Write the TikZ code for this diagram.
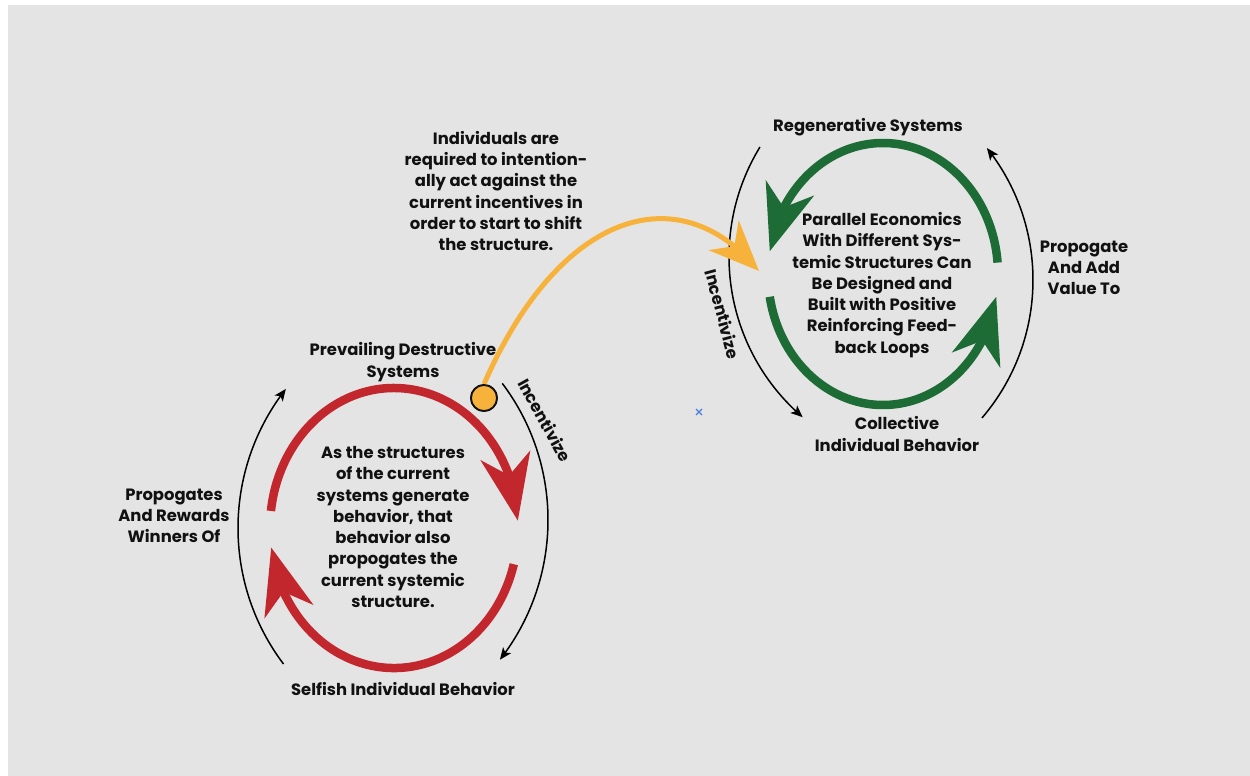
\documentclass[tikz,border=0pt]{standalone}
\usepackage{fontspec}
\setmainfont{Poppins}
\usetikzlibrary{arrows.meta,bending}
\definecolor{bg}{HTML}{E4E4E4}
\definecolor{loopred}{HTML}{C1272D}
\definecolor{loopgreen}{HTML}{1D6B35}
\definecolor{ochre}{HTML}{F7B23B}
\definecolor{txt}{HTML}{111111}
\definecolor{markblue}{HTML}{4A7FE0}
\begin{document}
\begin{tikzpicture}[x=1pt,y=-1pt,
  lbl/.style={font=\fontsize{16.4}{21.3}\selectfont\bfseries, text=txt, align=center, inner sep=0pt},
  bigtip/.style={-{Stealth[length=66pt,width=50pt,inset=20pt,flex]}},
  redloop/.style={draw=loopred, line width=8.5pt, bigtip},
  greenloop/.style={draw=loopgreen, line width=8.5pt, bigtip},
  thinarc/.style={draw=black, line width=1.5pt, -{Stealth[length=12pt,width=10pt,inset=3pt]}},
  shiftarrow/.style={draw=ochre, line width=5pt, -{Stealth[length=50pt,width=42pt,inset=15pt,flex]}},
  dot/.style={circle, draw=txt, line width=1.8pt, fill=ochre, minimum size=26pt, inner sep=0pt}
]
\useasboundingbox (0,0) rectangle (1250,776);
\fill[white] (0,0) rectangle (1250,776);
\fill[bg] (8,5) rectangle (1250,776);

% ---------- red loop ----------
\coordinate (rA) at ({394+124*cos(187)},{528+140*sin(187)});
\coordinate (rB) at ({394+124*cos(15)},{528+140*sin(15)});
\draw[redloop] (rA) arc[start angle=-187, end angle=-357, x radius=124pt, y radius=140pt];
\draw[redloop] (rB) arc[start angle=-15, end angle=-172, x radius=124pt, y radius=140pt];

\coordinate (kL) at ({464+226*cos(143)},{528+226*sin(143)});
\coordinate (kR) at ({321+227*cos(-37)},{520+227*sin(-37)});
\draw[thinarc] (kL) arc[start angle=-143, end angle=-218, radius=226pt];
\draw[thinarc] (kR) arc[start angle=37, end angle=-38, radius=227pt];

% ---------- green loop ----------
\coordinate (gA) at ({883+115*cos(-5)},{274+131*sin(-5)});
\coordinate (gB) at ({883+115*cos(170)},{274+131*sin(170)});
\draw[greenloop] (gA) arc[start angle=5, end angle=170, x radius=115pt, y radius=131pt];
\draw[greenloop] (gB) arc[start angle=-170, end angle=-10, x radius=115pt, y radius=131pt];

\coordinate (hL) at ({940+211*cos(211.4)},{257+211*sin(211.4)});
\coordinate (hR) at ({821+212*cos(40.6)},{280+212*sin(40.6)});
\draw[thinarc] (hL) arc[start angle=-211.4, end angle=-130.6, radius=211pt];
\draw[thinarc] (hR) arc[start angle=-40.6, end angle=38.5, radius=212pt];

% ---------- shift arrow ----------
\node[dot] (start) at (484,398) {};
\coordinate (shiftend) at (759,271);
\draw[shiftarrow] (start.north) .. controls (560,210) and (680,175) .. (shiftend);
\node[dot] at (484,398) {};

% ---------- texts ----------
\node[lbl] (shifttext) at (496,191) {Individuals are\\required to intention-\\ally act against the\\current incentives in\\order to start to shift\\the structure.};
\node[lbl] (prevail) at (403,362) {Prevailing Destructive\\Systems};
\node[lbl] (redcenter) at (393,527) {As the structures\\of the current\\systems generate\\behavior, that\\behavior also\\propogates the\\current systemic\\structure.};
\node[lbl] (rewards) at (174,516) {Propogates\\And Rewards\\Winners Of};
\node[lbl] (selfish) at (403,689) {Selfish Individual Behavior};
\node[lbl, rotate=-61] (incred) at (545,420) {Incentivize};

\node[lbl] (regen) at (868,127) {Regenerative Systems};
\node[lbl] (greencenter) at (882,285) {Parallel Economics\\With Different Sys-\\temic Structures Can\\Be Designed and\\Built with Positive\\Reinforcing Feed-\\back Loops};
\node[lbl] (addvalue) at (1084,268) {Propogate\\And Add\\Value To};
\node[lbl] (collective) at (897,434) {Collective\\Individual Behavior};
\node[lbl, rotate=-75] (incgreen) at (723,314) {Incentivize};

% ---------- small marker ----------
\coordinate (mk) at (699,412);
\draw[markblue, line width=1.2pt] ([shift={(-3,-3)}]mk) -- ([shift={(3,3)}]mk);
\draw[markblue, line width=1.2pt] ([shift={(-3,3)}]mk) -- ([shift={(3,-3)}]mk);
\end{tikzpicture}
\end{document}
